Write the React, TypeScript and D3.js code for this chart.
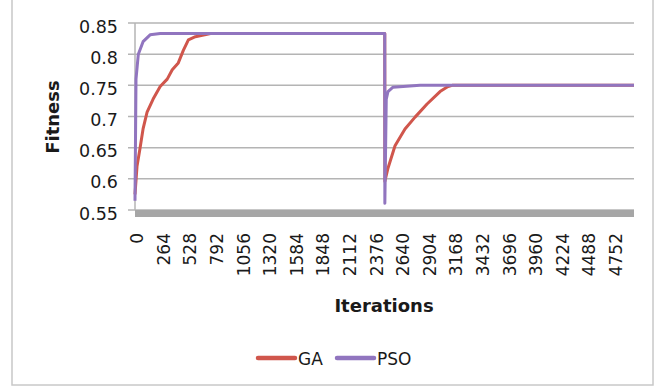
import React from "react";
import * as d3 from "d3";

const gaIter = [0, 20, 50, 80, 120, 180, 250, 320, 370, 430, 480, 530, 600, 750, 2480, 2481, 2512, 2582, 2681, 2781, 2900, 3029, 3108, 3150, 4955];
const gaFit = [0.575, 0.62, 0.649, 0.68, 0.707, 0.728, 0.748, 0.76, 0.775, 0.786, 0.806, 0.823, 0.828, 0.8333, 0.8333, 0.596, 0.617, 0.653, 0.68, 0.699, 0.72, 0.74, 0.748, 0.75, 0.75];

const psoIter = [0, 10, 33, 80, 150, 250, 2480, 2481, 2495, 2512, 2562, 2830, 4955];
const psoFit = [0.565, 0.76, 0.8, 0.82, 0.831, 0.8333, 0.8333, 0.561, 0.728, 0.74, 0.747, 0.75, 0.75];

const yTicks = [0.55, 0.6, 0.65, 0.7, 0.75, 0.8, 0.85];
const xTickLabels = [0, 264, 528, 792, 1056, 1320, 1584, 1848, 2112, 2376, 2640, 2904, 3168, 3432, 3696, 3960, 4224, 4488, 4752];
const seriesNames = ["GA", "PSO"];

const W = 655;
const H = 387;
const L = 135;
const R = 634;
const T = 23;
const B = 210;
const RED = "#d0564c";
const PURPLE = "#9175bf";
const FONT = "'DejaVu Sans', sans-serif";

export default function App() {
  const x = d3.scaleLinear().domain([0, 4955]).range([L, R]);
  const y = d3.scaleLinear().domain([0.55, 0.85]).range([B, T]);
  const line = d3
    .line<[number, number]>()
    .x((d) => x(d[0]))
    .y((d) => y(d[1]));
  const ga: [number, number][] = gaIter.map((v, i) => [v, gaFit[i]]);
  const pso: [number, number][] = psoIter.map((v, i) => [v, psoFit[i]]);

  return (
    <svg
      width={W}
      height={H}
      style={{ position: "absolute", left: 0, top: 0, background: "#fff" }}
      fontFamily={FONT}
    >
      <rect x={12} y={-5} width={641} height={390} fill="#fff" stroke="#c8c8c8" strokeWidth={1.5} />
      {yTicks.map((t) => (
        <g key={t}>
          <line x1={128} x2={R} y1={y(t)} y2={y(t)} stroke="#b4b4b4" strokeWidth={1.5} />
          <text x={118} y={y(t) + 3.5} textAnchor="end" dominantBaseline="central" fontSize={17.5} fill="#1a1a1a">
            {String(t)}
          </text>
        </g>
      ))}
      <line x1={L} x2={L} y1={T} y2={B} stroke="#b4b4b4" strokeWidth={1.5} />
      <rect x={L} y={B} width={R - L} height={7} fill="#a6a6a6" />
      {xTickLabels.map((t) => (
        <text
          key={t}
          transform={`translate(${x(t) + 2.3},233) rotate(-90)`}
          textAnchor="end"
          dominantBaseline="central"
          fontSize={17}
          fill="#1a1a1a"
        >
          {t}
        </text>
      ))}
      <path d={line(ga) || ""} fill="none" stroke={RED} strokeWidth={3} strokeLinejoin="round" />
      <path d={line(pso) || ""} fill="none" stroke={PURPLE} strokeWidth={3} strokeLinejoin="round" />
      <text
        transform={`translate(52,117) rotate(-90)`}
        textAnchor="middle"
        dominantBaseline="central"
        fontSize={18}
        fontWeight="bold"
        fill="#1a1a1a"
      >
        Fitness
      </text>
      <text x={384} y={312} textAnchor="middle" fontSize={18} fontWeight="bold" fill="#1a1a1a">
        Iterations
      </text>
      <line x1={258} x2={295} y1={358} y2={358} stroke={RED} strokeWidth={4.5} strokeLinecap="round" />
      <text x={298} y={364.5} fontSize={17} fill="#1a1a1a">{seriesNames[0]}</text>
      <line x1={337} x2={374} y1={358} y2={358} stroke={PURPLE} strokeWidth={4.5} strokeLinecap="round" />
      <text x={377} y={364.5} fontSize={17} fill="#1a1a1a">{seriesNames[1]}</text>
    </svg>
  );
}
